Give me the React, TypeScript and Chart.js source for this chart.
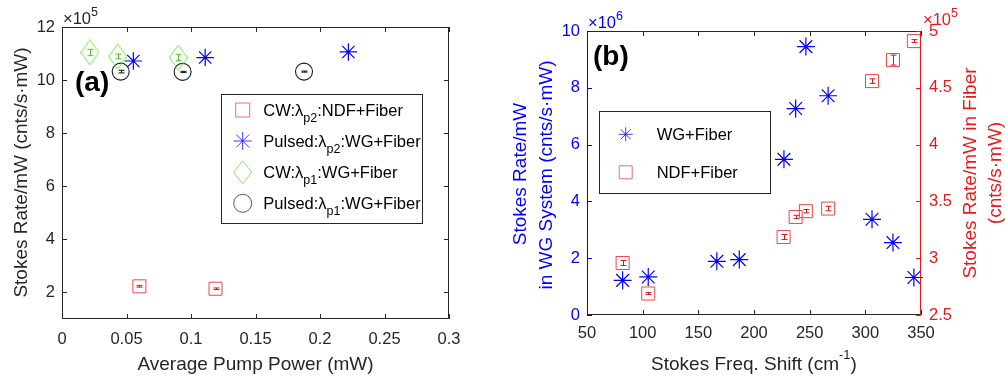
import React, { useEffect, useRef } from 'react';
import { Chart, registerables } from 'chart.js';

Chart.register(...registerables);

// ---------------- panel (a) data ----------------
const A_X_TICKS = [0, 0.05, 0.1, 0.15, 0.2, 0.25, 0.3];
const A_Y_TICKS = [2, 4, 6, 8, 10, 12];
const A_NDF_P = [0.06, 0.119];
const A_NDF_RATE = [2.23, 2.14];
const A_NDF_ERR = [0.03, 0.03];
const A_PULSED2_P = [0.0553, 0.111, 0.222];
const A_PULSED2_RATE = [10.72, 10.85, 11.06];
const A_CW1_P = [0.0217, 0.0432, 0.0902];
const A_CW1_RATE = [11.04, 10.89, 10.85];
const A_CW1_ERR = [0.12, 0.09, 0.12];
const A_PULSED1_P = [0.0455, 0.0935, 0.1876];
const A_PULSED1_RATE = [10.32, 10.31, 10.32];
const A_PULSED1_ERR = [0.05, 0.02, 0.02];

// ---------------- panel (b) data ----------------
const B_X_TICKS = [50, 100, 150, 200, 250, 300, 350];
const B_Y_TICKS = [0, 2, 4, 6, 8, 10];
const B_Y2_TICKS = [2.5, 3, 3.5, 4, 4.5, 5];
const B_WG_SHIFT = [82, 105, 166.6, 186.8, 226.9, 237.4, 246.6, 266.6, 306, 324.8, 343.6];
const B_WG_RATE = [1.22, 1.34, 1.89, 1.95, 5.48, 7.27, 9.45, 7.72, 3.37, 2.55, 1.32];
const B_NDF_SHIFT = [82, 105, 226.6, 237.4, 246.6, 266.6, 306, 324.8, 343.6];
const B_NDF_RATE = [2.958, 2.689, 3.187, 3.363, 3.414, 3.437, 4.559, 4.744, 4.911];
const B_NDF_ERR = [0.022, 0.009, 0.022, 0.015, 0.015, 0.02, 0.02, 0.044, 0.013];

// ---------------- styles ----------------
const FONT = '"Liberation Sans", Arial, Helvetica, sans-serif';
const GRAY = '#262626';
const BLUE = '#0000ff';
const RED = '#e41a1a';
const SQ_RED = '#e8474a';
const ERR_RED = '#d01818';
const GREEN = '#6fe03c';
const CIRC = '#1a1a1a';
const TICK_SIZE = 16.5;
const TITLE_SIZE = 19;
const LEG_SIZE = 16.5;

type Part = { t: string; k?: 'sub' | 'sup' };

function drawRich(
  ctx: CanvasRenderingContext2D,
  parts: Part[],
  x: number,
  y: number,
  size: number,
  color: string,
  align: 'left' | 'center',
  small: number,
  subDy: number,
  supDy: number,
  weight = 'normal'
) {
  const widths = parts.map((p) => {
    ctx.font = `${weight} ${p.k ? small : size}px ${FONT}`;
    return ctx.measureText(p.t).width;
  });
  const total = widths.reduce((a, b) => a + b, 0);
  let cx = align === 'center' ? x - total / 2 : x;
  ctx.fillStyle = color;
  ctx.textAlign = 'left';
  ctx.textBaseline = 'alphabetic';
  parts.forEach((p, i) => {
    ctx.font = `${weight} ${p.k ? small : size}px ${FONT}`;
    const dy = p.k === 'sub' ? subDy : p.k === 'sup' ? supDy : 0;
    ctx.fillText(p.t, cx, y + dy);
    cx += widths[i];
  });
}

function drawVertical(ctx: CanvasRenderingContext2D, text: string, baseX: number, cy: number, size: number, color: string) {
  ctx.save();
  ctx.translate(baseX, cy);
  ctx.rotate(-Math.PI / 2);
  ctx.font = `${size}px ${FONT}`;
  ctx.fillStyle = color;
  ctx.textAlign = 'center';
  ctx.textBaseline = 'alphabetic';
  ctx.fillText(text, 0, 0);
  ctx.restore();
}

function drawMarker(ctx: CanvasRenderingContext2D, kind: string, x: number, y: number, w: number, h: number, color: string) {
  ctx.save();
  ctx.strokeStyle = color;
  ctx.lineWidth = 1;
  ctx.beginPath();
  if (kind === 'square') {
    ctx.rect(x - w / 2, y - h / 2, w, h);
  } else if (kind === 'circle') {
    ctx.arc(x, y, w / 2, 0, Math.PI * 2);
  } else if (kind === 'diamond') {
    ctx.moveTo(x, y - h / 2);
    ctx.lineTo(x + w / 2, y);
    ctx.lineTo(x, y + h / 2);
    ctx.lineTo(x - w / 2, y);
    ctx.closePath();
  } else if (kind === 'star') {
    const r = w / 2;
    const d = r * Math.SQRT1_2;
    ctx.moveTo(x - r, y);
    ctx.lineTo(x + r, y);
    ctx.moveTo(x, y - r);
    ctx.lineTo(x, y + r);
    ctx.moveTo(x - d, y - d);
    ctx.lineTo(x + d, y + d);
    ctx.moveTo(x - d, y + d);
    ctx.lineTo(x + d, y - d);
  }
  ctx.stroke();
  if (kind === 'star') {
    ctx.fillStyle = color;
    ctx.fillRect(x - 1, y - 1, 2, 2);
  }
  ctx.restore();
}

function drawErr(chart: any, xs: number[], ys: number[], errs: number[], yId: string, color: string, cap: number) {
  const ctx: CanvasRenderingContext2D = chart.ctx;
  const xS = chart.scales.x;
  const yS = chart.scales[yId];
  ctx.save();
  ctx.strokeStyle = color;
  ctx.lineWidth = 1;
  xs.forEach((xv, i) => {
    const px = Math.round(xS.getPixelForValue(xv)) + 0.5;
    const y1 = yS.getPixelForValue(ys[i] - errs[i]);
    const y2 = yS.getPixelForValue(ys[i] + errs[i]);
    ctx.beginPath();
    ctx.moveTo(px, y1);
    ctx.lineTo(px, y2);
    ctx.moveTo(px - cap, y1);
    ctx.lineTo(px + cap, y1);
    ctx.moveTo(px - cap, y2);
    ctx.lineTo(px + cap, y2);
    ctx.stroke();
  });
  ctx.restore();
}

function line(ctx: CanvasRenderingContext2D, x1: number, y1: number, x2: number, y2: number, color: string) {
  ctx.strokeStyle = color;
  ctx.beginPath();
  ctx.moveTo(x1, y1);
  ctx.lineTo(x2, y2);
  ctx.stroke();
}

function xTicksInward(chart: any, color: string, len: number) {
  const ctx = chart.ctx;
  const ca = chart.chartArea;
  const s = chart.scales.x;
  ctx.lineWidth = 1;
  s.ticks.forEach((t: any) => {
    const px = Math.round(s.getPixelForValue(t.value)) + 0.5;
    line(ctx, px, ca.bottom, px, ca.bottom - len, color);
    line(ctx, px, ca.top, px, ca.top + len, color);
  });
}

function yTicksInward(chart: any, id: string, side: 'left' | 'right' | 'both', color: string, len: number) {
  const ctx = chart.ctx;
  const ca = chart.chartArea;
  const s = chart.scales[id];
  ctx.lineWidth = 1;
  s.ticks.forEach((t: any) => {
    const py = Math.round(s.getPixelForValue(t.value)) + 0.5;
    if (side !== 'right') line(ctx, ca.left, py, ca.left + len, py, color);
    if (side !== 'left') line(ctx, ca.right, py, ca.right - len, py, color);
  });
}

function makeDiamond(w: number, h: number, color: string) {
  const c = document.createElement('canvas');
  c.width = w;
  c.height = h;
  const g = c.getContext('2d')!;
  g.strokeStyle = color;
  g.lineWidth = 1;
  g.beginPath();
  g.moveTo(w / 2, 0.5);
  g.lineTo(w - 0.5, h / 2);
  g.lineTo(w / 2, h - 0.5);
  g.lineTo(0.5, h / 2);
  g.closePath();
  g.stroke();
  return c;
}

const pts = (xs: number[], ys: number[]) => xs.map((x, i) => ({ x, y: ys[i] }));

const tickFont = { family: FONT, size: TICK_SIZE };

// ---------------- panel (a) ----------------
const plugA = {
  id: 'decorA',
  afterDatasetsDraw(chart: any) {
    drawErr(chart, A_NDF_P, A_NDF_RATE, A_NDF_ERR, 'y', ERR_RED, 3);
    drawErr(chart, A_CW1_P, A_CW1_RATE, A_CW1_ERR, 'y', '#4fc02a', 3);
    drawErr(chart, A_PULSED1_P, A_PULSED1_RATE, A_PULSED1_ERR, 'y', '#111111', 3);
  },
  afterDraw(chart: any) {
    const ctx: CanvasRenderingContext2D = chart.ctx;
    const ca = chart.chartArea;
    ctx.save();
    ctx.lineWidth = 1;
    const L = Math.round(ca.left) + 0.5, R = Math.round(ca.right) - 0.5;
    const T = Math.round(ca.top) + 0.5, B = Math.round(ca.bottom) - 0.5;
    line(ctx, L, T, R, T, GRAY);
    line(ctx, L, B, R, B, GRAY);
    line(ctx, L, T, L, B, GRAY);
    line(ctx, R, T, R, B, GRAY);
    xTicksInward(chart, GRAY, 5);
    yTicksInward(chart, 'y', 'both', GRAY, 5);

    // exponent
    drawRich(ctx, [{ t: '\u00d710' }, { t: '5', k: 'sup' }], 63, 24, TICK_SIZE, GRAY, 'left', 12.5, 0, -8.5);
    // panel label
    drawRich(ctx, [{ t: '(a)' }], 75, 91, 28, '#000000', 'left', 20, 0, 0, 'bold');
    // axis titles
    drawRich(ctx, [{ t: 'Average Pump Power (mW)' }], (ca.left + ca.right) / 2, 370, TITLE_SIZE, GRAY, 'center', 13, 0, 0);
    drawVertical(ctx, 'Stokes Rate/mW (cnts/s\u00b7mW)', 27, 172.5, TITLE_SIZE, GRAY);

    // legend
    ctx.fillStyle = '#ffffff';
    ctx.fillRect(222, 94, 201, 129);
    ctx.strokeStyle = GRAY;
    ctx.lineWidth = 1;
    ctx.strokeRect(221.5, 94.5, 201, 129);
    const mx = 242.7, tx = 263.3;
    const rows: { k: string; w: number; h: number; c: string; parts: Part[]; y: number }[] = [
      { k: 'square', w: 14, h: 14, c: '#e87070', y: 110, parts: [{ t: 'CW:\u03bb' }, { t: 'p2', k: 'sub' }, { t: ':NDF+Fiber' }] },
      { k: 'star', w: 18, h: 18, c: '#3a3aff', y: 141, parts: [{ t: 'Pulsed:\u03bb' }, { t: 'p2', k: 'sub' }, { t: ':WG+Fiber' }] },
      { k: 'diamond', w: 18, h: 23, c: '#7ee85a', y: 172.3, parts: [{ t: 'CW:\u03bb' }, { t: 'p1', k: 'sub' }, { t: ':WG+Fiber' }] },
      { k: 'circle', w: 18, h: 18, c: '#555555', y: 203.3, parts: [{ t: 'Pulsed:\u03bb' }, { t: 'p1', k: 'sub' }, { t: ':WG+Fiber' }] },
    ];
    rows.forEach((r) => {
      drawMarker(ctx, r.k, mx, r.y, r.w, r.h, r.c);
      drawRich(ctx, r.parts, tx, r.y + 5.5, LEG_SIZE, '#000000', 'left', 12.5, 6, 0);
    });
    ctx.restore();
  },
};

function configA(): any {
  const diamond = makeDiamond(19, 26, GREEN);
  return {
    type: 'scatter',
    data: {
      datasets: [
        {
          data: pts(A_NDF_P, A_NDF_RATE),
          pointStyle: 'rect',
          pointRadius: 9.2,
          pointBorderColor: SQ_RED,
          pointBackgroundColor: 'transparent',
          pointBorderWidth: 1,
          clip: false,
        },
        {
          data: pts(A_PULSED2_P, A_PULSED2_RATE),
          pointStyle: 'star',
          pointRadius: 8.7,
          pointBorderColor: BLUE,
          pointBackgroundColor: 'transparent',
          pointBorderWidth: 1.2,
          clip: false,
        },
        {
          data: pts(A_CW1_P, A_CW1_RATE),
          pointStyle: diamond,
          pointRadius: 10,
          pointBorderColor: GREEN,
          pointBackgroundColor: 'transparent',
          clip: false,
        },
        {
          data: pts(A_PULSED1_P, A_PULSED1_RATE),
          pointStyle: 'circle',
          pointRadius: 8.5,
          pointBorderColor: CIRC,
          pointBackgroundColor: 'transparent',
          pointBorderWidth: 1.1,
          clip: false,
        },
      ],
    },
    options: {
      responsive: false,
      animation: false,
      events: [],
      layout: { padding: { left: 0, right: 51, top: 27, bottom: 0 } },
      plugins: { legend: { display: false }, tooltip: { enabled: false } },
      scales: {
        x: {
          type: 'linear',
          min: 0,
          max: 0.3,
          afterBuildTicks: (s: any) => {
            s.ticks = A_X_TICKS.map((value) => ({ value }));
          },
          afterFit: (s: any) => {
            s.height = 60;
          },
          grid: { display: false, drawTicks: false },
          border: { display: false },
          ticks: { autoSkip: false, maxRotation: 0, padding: 11, color: GRAY, font: tickFont, callback: (v: any) => String(v) },
        },
        y: {
          type: 'linear',
          min: 1,
          max: 12,
          afterBuildTicks: (s: any) => {
            s.ticks = A_Y_TICKS.map((value) => ({ value }));
          },
          afterFit: (s: any) => {
            s.width = 62;
          },
          grid: { display: false, drawTicks: false },
          border: { display: false },
          ticks: { autoSkip: false, padding: 7, color: GRAY, font: tickFont, callback: (v: any) => String(v) },
        },
      },
    },
    plugins: [plugA],
  };
}

// ---------------- panel (b) ----------------
const OFF = 500;
const plugB = {
  id: 'decorB',
  afterDatasetsDraw(chart: any) {
    drawErr(chart, B_NDF_SHIFT, B_NDF_RATE, B_NDF_ERR, 'y2', ERR_RED, 3);
  },
  afterDraw(chart: any) {
    const ctx: CanvasRenderingContext2D = chart.ctx;
    const ca = chart.chartArea;
    ctx.save();
    ctx.lineWidth = 1;
    const L = Math.round(ca.left) + 0.5, R = Math.round(ca.right) - 0.5;
    const T = Math.round(ca.top) + 0.5, B = Math.round(ca.bottom) - 0.5;
    line(ctx, L, T, R, T, GRAY);
    line(ctx, L, B, R, B, GRAY);
    line(ctx, L, T, L, B, BLUE);
    line(ctx, R, T, R, B, RED);
    xTicksInward(chart, GRAY, 5);
    yTicksInward(chart, 'y', 'left', BLUE, 5);
    yTicksInward(chart, 'y2', 'right', RED, 5);

    drawRich(ctx, [{ t: '\u00d710' }, { t: '6', k: 'sup' }], 588 - OFF, 28, TICK_SIZE, BLUE, 'left', 12.5, 0, -8.5);
    drawRich(ctx, [{ t: '\u00d710' }, { t: '5', k: 'sup' }], 923 - OFF, 25, TICK_SIZE, RED, 'left', 12.5, 0, -8.5);
    drawRich(ctx, [{ t: '(b)' }], 593 - OFF, 65, 28, '#000000', 'left', 20, 0, 0, 'bold');

    drawRich(
      ctx,
      [{ t: 'Stokes Freq. Shift (cm' }, { t: '-1', k: 'sup' }, { t: ')' }],
      (ca.left + ca.right) / 2,
      370,
      TITLE_SIZE,
      GRAY,
      'center',
      13,
      0,
      -11
    );
    drawVertical(ctx, 'Stokes Rate/mW', 526 - OFF, 174, TITLE_SIZE, BLUE);
    drawVertical(ctx, 'in WG System (cnts/s\u00b7mW)', 552 - OFF, 175, TITLE_SIZE, BLUE);
    drawVertical(ctx, 'Stokes Rate/mW in Fiber', 976 - OFF, 173, TITLE_SIZE, RED);
    drawVertical(ctx, '(cnts/s\u00b7mW)', 1001 - OFF, 173, TITLE_SIZE, RED);

    // legend
    ctx.fillStyle = '#ffffff';
    ctx.fillRect(599 - OFF, 111, 172, 82);
    ctx.strokeStyle = GRAY;
    ctx.lineWidth = 1;
    ctx.strokeRect(599.5 - OFF, 111.5, 171, 82);
    drawMarker(ctx, 'star', 625.7 - OFF, 134.3, 14, 14, '#3a3aff');
    drawRich(ctx, [{ t: 'WG+Fiber' }], 656.7 - OFF, 140, LEG_SIZE, '#000000', 'left', 12, 0, 0);
    drawMarker(ctx, 'square', 625.7 - OFF, 172.3, 13, 13, '#e87070');
    drawRich(ctx, [{ t: 'NDF+Fiber' }], 656.7 - OFF, 178, LEG_SIZE, '#000000', 'left', 12, 0, 0);
    ctx.restore();
  },
};

function configB(): any {
  return {
    type: 'scatter',
    data: {
      datasets: [
        {
          data: pts(B_NDF_SHIFT, B_NDF_RATE),
          yAxisID: 'y2',
          pointStyle: 'rect',
          pointRadius: 9.2,
          pointBorderColor: SQ_RED,
          pointBackgroundColor: 'transparent',
          pointBorderWidth: 1,
          clip: false,
        },
        {
          data: pts(B_WG_SHIFT, B_WG_RATE),
          yAxisID: 'y',
          pointStyle: 'star',
          pointRadius: 9,
          pointBorderColor: BLUE,
          pointBackgroundColor: 'transparent',
          pointBorderWidth: 1.2,
          clip: false,
        },
      ],
    },
    options: {
      responsive: false,
      animation: false,
      events: [],
      layout: { padding: { left: 0, right: 0, top: 31, bottom: 0 } },
      plugins: { legend: { display: false }, tooltip: { enabled: false } },
      scales: {
        x: {
          type: 'linear',
          min: 50,
          max: 350,
          afterBuildTicks: (s: any) => {
            s.ticks = B_X_TICKS.map((value) => ({ value }));
          },
          afterFit: (s: any) => {
            s.height = 64;
          },
          grid: { display: false, drawTicks: false },
          border: { display: false },
          ticks: { autoSkip: false, maxRotation: 0, padding: 9, color: GRAY, font: tickFont, callback: (v: any) => String(v) },
        },
        y: {
          type: 'linear',
          position: 'left',
          min: 0,
          max: 10,
          afterBuildTicks: (s: any) => {
            s.ticks = B_Y_TICKS.map((value) => ({ value }));
          },
          afterFit: (s: any) => {
            s.width = 87;
          },
          grid: { display: false, drawTicks: false },
          border: { display: false },
          ticks: { autoSkip: false, padding: 7, color: BLUE, font: tickFont, callback: (v: any) => String(v) },
        },
        y2: {
          type: 'linear',
          position: 'right',
          min: 2.5,
          max: 5,
          afterBuildTicks: (s: any) => {
            s.ticks = B_Y2_TICKS.map((value) => ({ value }));
          },
          afterFit: (s: any) => {
            s.width = 84;
          },
          grid: { display: false, drawTicks: false },
          border: { display: false },
          ticks: { autoSkip: false, padding: 8, color: RED, font: tickFont, callback: (v: any) => String(v) },
        },
      },
    },
    plugins: [plugB],
  };
}

function Panel({ left, width, make }: { left: number; width: number; make: () => any }) {
  const ref = useRef<HTMLCanvasElement>(null);
  useEffect(() => {
    const chart = new Chart(ref.current as HTMLCanvasElement, make());
    return () => chart.destroy();
  }, []);
  return (
    <canvas
      ref={ref}
      width={width}
      height={379}
      style={{ position: 'absolute', left, top: 0, width, height: 379, display: 'block' }}
    />
  );
}

export default function App() {
  return (
    <div style={{ position: 'absolute', left: 0, top: 0, width: 1005, height: 379, background: '#ffffff', overflow: 'hidden' }}>
      <Panel left={0} width={500} make={configA} />
      <Panel left={OFF} width={505} make={configB} />
    </div>
  );
}
